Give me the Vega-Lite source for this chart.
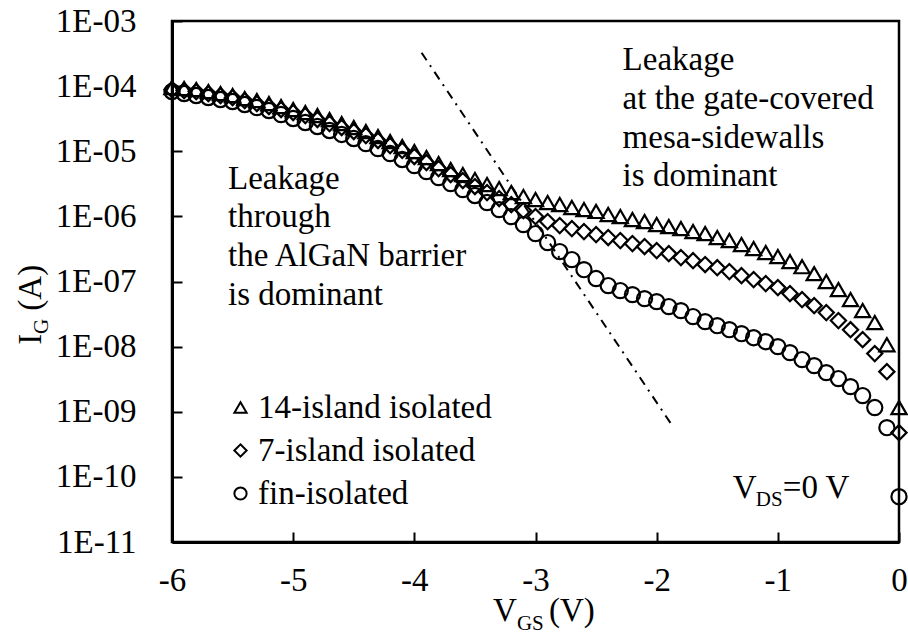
{
  "$schema": "https://vega.github.io/schema/vega-lite/v6.json",
  "width": 727,
  "height": 521,
  "autosize": "none",
  "padding": {"left": 172, "top": 21, "right": 9, "bottom": 93},
  "background": "white",
  "config": {
    "view": {"stroke": "black", "strokeWidth": 2.5},
    "font": "Liberation Serif",
    "axis": {
      "grid": false,
      "domainColor": "black",
      "domainWidth": 3,
      "tickColor": "black",
      "tickWidth": 2,
      "tickSize": -10,
      "labelColor": "black",
      "labelFont": "Liberation Serif",
      "labelFontSize": 33,
      "title": null
    },
    "text": {"font": "Liberation Serif", "color": "black"}
  },
  "encoding": {
    "x": {
      "field": "v",
      "type": "quantitative",
      "scale": {"domain": [-6, 0], "nice": false, "zero": false},
      "axis": {"values": [-6, -5, -4, -3, -2, -1, 0], "labelPadding": 32, "labelFlush": false, "labelExpr": "'' + datum.value"}
    },
    "y": {
      "field": "i",
      "type": "quantitative",
      "scale": {"type": "log", "domain": [1e-11, 0.001], "nice": false},
      "axis": {
        "values": [1e-11, 1e-10, 1e-9, 1e-8, 1e-7, 1e-6, 1e-5, 1e-4, 1e-3],
        "labelPadding": 46,
        "labelExpr": "'1E-' + (abs(round(log(datum.value) / LN10)) < 10 ? '0' : '') + abs(round(log(datum.value) / LN10))"
      }
    }
  },
  "layer": [
    {
      "data": {"values": [
        {"v": -3.94, "i": 3.25e-4},
        {"v": -1.86, "i": 5.7e-10}
      ]},
      "mark": {"type": "line", "color": "black", "strokeWidth": 2, "strokeDash": [9, 6, 2, 6]},
      "encoding": {}
    },
    {
      "data": {"values": [
        {"series": "14-island isolated", "v": -6.0, "i": 9.52e-5},
        {"series": "14-island isolated", "v": -5.9, "i": 9.19e-5},
        {"series": "14-island isolated", "v": -5.8, "i": 8.87e-5},
        {"series": "14-island isolated", "v": -5.7, "i": 8.26e-5},
        {"series": "14-island isolated", "v": -5.6, "i": 7.70e-5},
        {"series": "14-island isolated", "v": -5.5, "i": 7.17e-5},
        {"series": "14-island isolated", "v": -5.4, "i": 6.45e-5},
        {"series": "14-island isolated", "v": -5.3, "i": 6.01e-5},
        {"series": "14-island isolated", "v": -5.2, "i": 5.40e-5},
        {"series": "14-island isolated", "v": -5.1, "i": 4.86e-5},
        {"series": "14-island isolated", "v": -5.0, "i": 4.37e-5},
        {"series": "14-island isolated", "v": -4.9, "i": 3.93e-5},
        {"series": "14-island isolated", "v": -4.8, "i": 3.53e-5},
        {"series": "14-island isolated", "v": -4.7, "i": 3.07e-5},
        {"series": "14-island isolated", "v": -4.6, "i": 2.66e-5},
        {"series": "14-island isolated", "v": -4.5, "i": 2.31e-5},
        {"series": "14-island isolated", "v": -4.4, "i": 2.01e-5},
        {"series": "14-island isolated", "v": -4.3, "i": 1.68e-5},
        {"series": "14-island isolated", "v": -4.2, "i": 1.41e-5},
        {"series": "14-island isolated", "v": -4.1, "i": 1.18e-5},
        {"series": "14-island isolated", "v": -4.0, "i": 9.89e-6},
        {"series": "14-island isolated", "v": -3.9, "i": 8.00e-6},
        {"series": "14-island isolated", "v": -3.8, "i": 6.47e-6},
        {"series": "14-island isolated", "v": -3.7, "i": 5.24e-6},
        {"series": "14-island isolated", "v": -3.6, "i": 4.39e-6},
        {"series": "14-island isolated", "v": -3.5, "i": 3.67e-6},
        {"series": "14-island isolated", "v": -3.4, "i": 3.08e-6},
        {"series": "14-island isolated", "v": -3.3, "i": 2.67e-6},
        {"series": "14-island isolated", "v": -3.2, "i": 2.32e-6},
        {"series": "14-island isolated", "v": -3.1, "i": 2.01e-6},
        {"series": "14-island isolated", "v": -3.0, "i": 1.81e-6},
        {"series": "14-island isolated", "v": -2.9, "i": 1.63e-6},
        {"series": "14-island isolated", "v": -2.8, "i": 1.52e-6},
        {"series": "14-island isolated", "v": -2.7, "i": 1.37e-6},
        {"series": "14-island isolated", "v": -2.6, "i": 1.27e-6},
        {"series": "14-island isolated", "v": -2.5, "i": 1.19e-6},
        {"series": "14-island isolated", "v": -2.4, "i": 1.07e-6},
        {"series": "14-island isolated", "v": -2.3, "i": 9.93e-7},
        {"series": "14-island isolated", "v": -2.2, "i": 8.93e-7},
        {"series": "14-island isolated", "v": -2.1, "i": 8.32e-7},
        {"series": "14-island isolated", "v": -2.0, "i": 7.48e-7},
        {"series": "14-island isolated", "v": -1.9, "i": 6.97e-7},
        {"series": "14-island isolated", "v": -1.8, "i": 6.49e-7},
        {"series": "14-island isolated", "v": -1.7, "i": 5.84e-7},
        {"series": "14-island isolated", "v": -1.6, "i": 5.44e-7},
        {"series": "14-island isolated", "v": -1.5, "i": 4.73e-7},
        {"series": "14-island isolated", "v": -1.4, "i": 4.25e-7},
        {"series": "14-island isolated", "v": -1.3, "i": 3.69e-7},
        {"series": "14-island isolated", "v": -1.2, "i": 3.20e-7},
        {"series": "14-island isolated", "v": -1.1, "i": 2.78e-7},
        {"series": "14-island isolated", "v": -1.0, "i": 2.41e-7},
        {"series": "14-island isolated", "v": -0.9, "i": 2.02e-7},
        {"series": "14-island isolated", "v": -0.8, "i": 1.69e-7},
        {"series": "14-island isolated", "v": -0.7, "i": 1.32e-7},
        {"series": "14-island isolated", "v": -0.6, "i": 9.96e-8},
        {"series": "14-island isolated", "v": -0.5, "i": 7.51e-8},
        {"series": "14-island isolated", "v": -0.4, "i": 5.27e-8},
        {"series": "14-island isolated", "v": -0.3, "i": 3.57e-8},
        {"series": "14-island isolated", "v": -0.2, "i": 2.34e-8},
        {"series": "14-island isolated", "v": -0.1, "i": 1.07e-8},
        {"series": "14-island isolated", "v": 0.0, "i": 1.16e-9},
        {"series": "7-island isolated", "v": -6.0, "i": 8.87e-5},
        {"series": "7-island isolated", "v": -5.9, "i": 8.56e-5},
        {"series": "7-island isolated", "v": -5.8, "i": 8.26e-5},
        {"series": "7-island isolated", "v": -5.7, "i": 7.70e-5},
        {"series": "7-island isolated", "v": -5.6, "i": 7.17e-5},
        {"series": "7-island isolated", "v": -5.5, "i": 6.68e-5},
        {"series": "7-island isolated", "v": -5.4, "i": 6.01e-5},
        {"series": "7-island isolated", "v": -5.3, "i": 5.40e-5},
        {"series": "7-island isolated", "v": -5.2, "i": 4.86e-5},
        {"series": "7-island isolated", "v": -5.1, "i": 4.37e-5},
        {"series": "7-island isolated", "v": -5.0, "i": 3.93e-5},
        {"series": "7-island isolated", "v": -4.9, "i": 3.53e-5},
        {"series": "7-island isolated", "v": -4.8, "i": 3.07e-5},
        {"series": "7-island isolated", "v": -4.7, "i": 2.66e-5},
        {"series": "7-island isolated", "v": -4.6, "i": 2.31e-5},
        {"series": "7-island isolated", "v": -4.5, "i": 2.01e-5},
        {"series": "7-island isolated", "v": -4.4, "i": 1.74e-5},
        {"series": "7-island isolated", "v": -4.3, "i": 1.46e-5},
        {"series": "7-island isolated", "v": -4.2, "i": 1.22e-5},
        {"series": "7-island isolated", "v": -4.1, "i": 1.03e-5},
        {"series": "7-island isolated", "v": -4.0, "i": 8.29e-6},
        {"series": "7-island isolated", "v": -3.9, "i": 6.71e-6},
        {"series": "7-island isolated", "v": -3.8, "i": 5.42e-6},
        {"series": "7-island isolated", "v": -3.7, "i": 4.39e-6},
        {"series": "7-island isolated", "v": -3.6, "i": 3.55e-6},
        {"series": "7-island isolated", "v": -3.5, "i": 2.87e-6},
        {"series": "7-island isolated", "v": -3.4, "i": 2.32e-6},
        {"series": "7-island isolated", "v": -3.3, "i": 1.88e-6},
        {"series": "7-island isolated", "v": -3.2, "i": 1.52e-6},
        {"series": "7-island isolated", "v": -3.1, "i": 1.23e-6},
        {"series": "7-island isolated", "v": -3.0, "i": 9.93e-7},
        {"series": "7-island isolated", "v": -2.9, "i": 8.32e-7},
        {"series": "7-island isolated", "v": -2.8, "i": 7.22e-7},
        {"series": "7-island isolated", "v": -2.7, "i": 6.49e-7},
        {"series": "7-island isolated", "v": -2.6, "i": 5.84e-7},
        {"series": "7-island isolated", "v": -2.5, "i": 5.25e-7},
        {"series": "7-island isolated", "v": -2.4, "i": 4.73e-7},
        {"series": "7-island isolated", "v": -2.3, "i": 4.25e-7},
        {"series": "7-island isolated", "v": -2.2, "i": 3.82e-7},
        {"series": "7-island isolated", "v": -2.1, "i": 3.44e-7},
        {"series": "7-island isolated", "v": -2.0, "i": 2.98e-7},
        {"series": "7-island isolated", "v": -1.9, "i": 2.68e-7},
        {"series": "7-island isolated", "v": -1.8, "i": 2.33e-7},
        {"series": "7-island isolated", "v": -1.7, "i": 2.09e-7},
        {"series": "7-island isolated", "v": -1.6, "i": 1.82e-7},
        {"series": "7-island isolated", "v": -1.5, "i": 1.63e-7},
        {"series": "7-island isolated", "v": -1.4, "i": 1.42e-7},
        {"series": "7-island isolated", "v": -1.3, "i": 1.23e-7},
        {"series": "7-island isolated", "v": -1.2, "i": 1.07e-7},
        {"series": "7-island isolated", "v": -1.1, "i": 9.28e-8},
        {"series": "7-island isolated", "v": -1.0, "i": 8.06e-8},
        {"series": "7-island isolated", "v": -0.9, "i": 6.52e-8},
        {"series": "7-island isolated", "v": -0.8, "i": 5.27e-8},
        {"series": "7-island isolated", "v": -0.7, "i": 4.26e-8},
        {"series": "7-island isolated", "v": -0.6, "i": 3.33e-8},
        {"series": "7-island isolated", "v": -0.5, "i": 2.51e-8},
        {"series": "7-island isolated", "v": -0.4, "i": 1.82e-8},
        {"series": "7-island isolated", "v": -0.3, "i": 1.28e-8},
        {"series": "7-island isolated", "v": -0.2, "i": 7.81e-9},
        {"series": "7-island isolated", "v": -0.1, "i": 4.13e-9},
        {"series": "7-island isolated", "v": 0.0, "i": 4.78e-10},
        {"series": "fin-isolated", "v": -6.0, "i": 8.26e-5},
        {"series": "fin-isolated", "v": -5.9, "i": 7.70e-5},
        {"series": "fin-isolated", "v": -5.8, "i": 7.17e-5},
        {"series": "fin-isolated", "v": -5.7, "i": 6.68e-5},
        {"series": "fin-isolated", "v": -5.6, "i": 6.23e-5},
        {"series": "fin-isolated", "v": -5.5, "i": 5.80e-5},
        {"series": "fin-isolated", "v": -5.4, "i": 5.22e-5},
        {"series": "fin-isolated", "v": -5.3, "i": 4.69e-5},
        {"series": "fin-isolated", "v": -5.2, "i": 4.22e-5},
        {"series": "fin-isolated", "v": -5.1, "i": 3.66e-5},
        {"series": "fin-isolated", "v": -5.0, "i": 3.18e-5},
        {"series": "fin-isolated", "v": -4.9, "i": 2.76e-5},
        {"series": "fin-isolated", "v": -4.8, "i": 2.40e-5},
        {"series": "fin-isolated", "v": -4.7, "i": 2.08e-5},
        {"series": "fin-isolated", "v": -4.6, "i": 1.81e-5},
        {"series": "fin-isolated", "v": -4.5, "i": 1.57e-5},
        {"series": "fin-isolated", "v": -4.4, "i": 1.31e-5},
        {"series": "fin-isolated", "v": -4.3, "i": 1.10e-5},
        {"series": "fin-isolated", "v": -4.2, "i": 9.22e-6},
        {"series": "fin-isolated", "v": -4.1, "i": 7.46e-6},
        {"series": "fin-isolated", "v": -4.0, "i": 6.03e-6},
        {"series": "fin-isolated", "v": -3.9, "i": 4.88e-6},
        {"series": "fin-isolated", "v": -3.8, "i": 3.94e-6},
        {"series": "fin-isolated", "v": -3.7, "i": 3.19e-6},
        {"series": "fin-isolated", "v": -3.6, "i": 2.58e-6},
        {"series": "fin-isolated", "v": -3.5, "i": 2.09e-6},
        {"series": "fin-isolated", "v": -3.4, "i": 1.63e-6},
        {"series": "fin-isolated", "v": -3.3, "i": 1.27e-6},
        {"series": "fin-isolated", "v": -3.2, "i": 9.93e-7},
        {"series": "fin-isolated", "v": -3.1, "i": 7.48e-7},
        {"series": "fin-isolated", "v": -3.0, "i": 5.44e-7},
        {"series": "fin-isolated", "v": -2.9, "i": 3.96e-7},
        {"series": "fin-isolated", "v": -2.8, "i": 2.88e-7},
        {"series": "fin-isolated", "v": -2.7, "i": 2.17e-7},
        {"series": "fin-isolated", "v": -2.6, "i": 1.52e-7},
        {"series": "fin-isolated", "v": -2.5, "i": 1.11e-7},
        {"series": "fin-isolated", "v": -2.4, "i": 8.65e-8},
        {"series": "fin-isolated", "v": -2.3, "i": 7.25e-8},
        {"series": "fin-isolated", "v": -2.2, "i": 6.29e-8},
        {"series": "fin-isolated", "v": -2.1, "i": 5.46e-8},
        {"series": "fin-isolated", "v": -2.0, "i": 4.91e-8},
        {"series": "fin-isolated", "v": -1.9, "i": 4.12e-8},
        {"series": "fin-isolated", "v": -1.8, "i": 3.57e-8},
        {"series": "fin-isolated", "v": -1.7, "i": 2.89e-8},
        {"series": "fin-isolated", "v": -1.6, "i": 2.42e-8},
        {"series": "fin-isolated", "v": -1.5, "i": 2.10e-8},
        {"series": "fin-isolated", "v": -1.4, "i": 1.82e-8},
        {"series": "fin-isolated", "v": -1.3, "i": 1.58e-8},
        {"series": "fin-isolated", "v": -1.2, "i": 1.37e-8},
        {"series": "fin-isolated", "v": -1.1, "i": 1.19e-8},
        {"series": "fin-isolated", "v": -1.0, "i": 1.00e-8},
        {"series": "fin-isolated", "v": -0.9, "i": 8.09e-9},
        {"series": "fin-isolated", "v": -0.8, "i": 6.32e-9},
        {"series": "fin-isolated", "v": -0.7, "i": 5.11e-9},
        {"series": "fin-isolated", "v": -0.6, "i": 3.99e-9},
        {"series": "fin-isolated", "v": -0.5, "i": 3.23e-9},
        {"series": "fin-isolated", "v": -0.4, "i": 2.43e-9},
        {"series": "fin-isolated", "v": -0.3, "i": 1.77e-9},
        {"series": "fin-isolated", "v": -0.2, "i": 1.16e-9},
        {"series": "fin-isolated", "v": -0.1, "i": 5.70e-10},
        {"series": "fin-isolated", "v": 0.0, "i": 4.96e-11}
      ]},
      "mark": {"type": "point", "filled": false, "color": "black", "strokeWidth": 2.2, "size": 230, "opacity": 1, "clip": false},
      "encoding": {
        "shape": {
          "field": "series",
          "type": "nominal",
          "scale": {
            "domain": ["14-island isolated", "7-island isolated", "fin-isolated"],
            "range": ["triangle-up", "diamond", "circle"]
          },
          "legend": {
            "orient": "none",
            "legendX": 52,
            "legendY": 370,
            "title": null,
            "padding": 0,
            "labelFont": "Liberation Serif",
            "labelFontSize": 33,
            "labelColor": "black",
            "labelOffset": 1,
            "labelLimit": 400,
            "rowPadding": 9,
            "symbolSize": 150,
            "symbolStrokeWidth": 2,
            "symbolStrokeColor": "black",
            "symbolFillColor": "transparent"
          }
        }
      }
    },
    {
      "data": {"values": [
        {"t": "Leakage\nthrough\nthe AlGaN barrier\nis dominant", "v": -5.538, "i": 2.67e-6},
        {"t": "Leakage\nat the gate-covered\nmesa-sidewalls\nis dominant", "v": -2.281, "i": 1.754e-4},
        {"t": "V", "v": -3.3515, "i": 6.03e-13},
        {"t": "(V)", "v": -2.8894, "i": 6.03e-13},
        {"t": "V", "v": -1.3713, "i": 4.79e-11},
        {"t": "=0 V", "v": -0.9587, "i": 4.79e-11}
      ]},
      "mark": {"type": "text", "font": "Liberation Serif", "align": "left", "baseline": "alphabetic", "fontSize": 33, "lineBreak": "\n", "lineHeight": 38.7, "clip": false},
      "encoding": {"text": {"field": "t", "type": "nominal"}}
    },
    {
      "data": {"values": [
        {"t": "GS", "v": -3.1535, "i": 4.5e-13},
        {"t": "DS", "v": -1.1815, "i": 3.61e-11}
      ]},
      "mark": {"type": "text", "font": "Liberation Serif", "align": "left", "baseline": "alphabetic", "fontSize": 21, "clip": false},
      "encoding": {"text": {"field": "t", "type": "nominal"}}
    },
    {
      "data": {"values": [
        {"t": "I", "v": -7.081, "i": 1.073e-8},
        {"t": "(A)", "v": -7.081, "i": 3.57e-8}
      ]},
      "mark": {"type": "text", "font": "Liberation Serif", "align": "left", "baseline": "alphabetic", "angle": 270, "fontSize": 33, "clip": false},
      "encoding": {"text": {"field": "t", "type": "nominal"}}
    },
    {
      "data": {"values": [
        {"t": "G", "v": -7.023, "i": 1.567e-8}
      ]},
      "mark": {"type": "text", "font": "Liberation Serif", "align": "left", "baseline": "alphabetic", "angle": 270, "fontSize": 21, "clip": false},
      "encoding": {"text": {"field": "t", "type": "nominal"}}
    }
  ]
}
